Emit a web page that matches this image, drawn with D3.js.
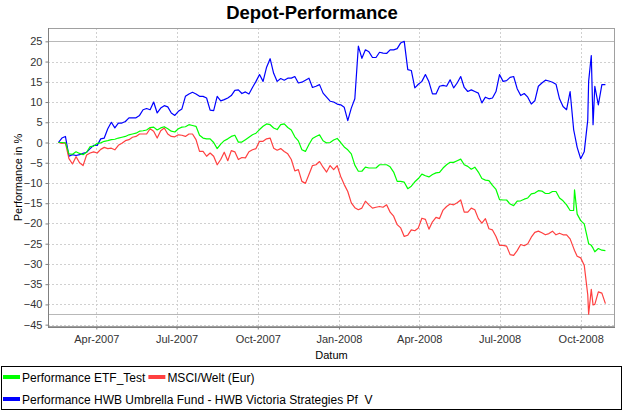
<!DOCTYPE html>
<html><head><meta charset="utf-8">
<script src="https://cdn.jsdelivr.net/npm/d3@7"></script>
<style>
body{margin:0;background:#fff;}
svg{display:block;font-family:"Liberation Sans",Arial,sans-serif;}
</style></head><body>
<svg id="chart" width="625" height="417"></svg>
<script>
// ---- data ----
const dates = [
"2007-02-17","2007-02-21","2007-02-25","2007-03-01","2007-03-05","2007-03-09","2007-03-13","2007-03-17","2007-03-21","2007-03-25",
"2007-03-29","2007-04-02","2007-04-06","2007-04-10","2007-04-14","2007-04-18","2007-04-22","2007-04-26","2007-04-30","2007-05-04",
"2007-05-08","2007-05-12","2007-05-16","2007-05-20","2007-05-24","2007-05-28","2007-06-01","2007-06-05","2007-06-09","2007-06-13",
"2007-06-17","2007-06-21","2007-06-25","2007-06-29","2007-07-03","2007-07-07","2007-07-11","2007-07-15","2007-07-19","2007-07-23",
"2007-07-27","2007-07-31","2007-08-04","2007-08-08","2007-08-12","2007-08-16","2007-08-20","2007-08-24","2007-08-28","2007-09-01",
"2007-09-05","2007-09-09","2007-09-13","2007-09-17","2007-09-21","2007-09-25","2007-09-29","2007-10-03","2007-10-07","2007-10-11",
"2007-10-15","2007-10-19","2007-10-23","2007-10-27","2007-10-31","2007-11-04","2007-11-08","2007-11-12","2007-11-16","2007-11-20",
"2007-11-24","2007-11-28","2007-12-02","2007-12-06","2007-12-10","2007-12-14","2007-12-18","2007-12-22","2007-12-26","2007-12-30",
"2008-01-03","2008-01-07","2008-01-11","2008-01-15","2008-01-19","2008-01-23","2008-01-27","2008-01-31","2008-02-04","2008-02-08",
"2008-02-12","2008-02-16","2008-02-20","2008-02-24","2008-02-28","2008-03-03","2008-03-07","2008-03-11","2008-03-15","2008-03-19",
"2008-03-23","2008-03-27","2008-03-31","2008-04-04","2008-04-08","2008-04-12","2008-04-16","2008-04-20","2008-04-24","2008-04-28",
"2008-05-02","2008-05-06","2008-05-10","2008-05-14","2008-05-18","2008-05-22","2008-05-26","2008-05-30","2008-06-03","2008-06-07",
"2008-06-11","2008-06-15","2008-06-19","2008-06-23","2008-06-27","2008-07-01","2008-07-05","2008-07-09","2008-07-13","2008-07-17",
"2008-07-21","2008-07-25","2008-07-29","2008-08-02","2008-08-06","2008-08-10","2008-08-14","2008-08-18","2008-08-22","2008-08-26",
"2008-08-30","2008-09-03","2008-09-07","2008-09-11","2008-09-15","2008-09-19","2008-09-23","2008-09-24","2008-09-27","2008-10-01",
"2008-10-05","2008-10-09","2008-10-10","2008-10-13","2008-10-15","2008-10-17","2008-10-21","2008-10-25","2008-10-29"
];
const etfTest = [
0,0,-0.1,-2.8,-2.9,-2.3,-2.7,-3.0,-2.4,-1.0,
-0.9,-0.2,-0.1,0.3,0.45,0.7,0.8,1.1,1.3,1.5,
1.9,2.1,2.3,2.8,2.9,3.1,3.7,3.8,3.1,3.6,
3.9,3.4,2.8,2.6,3.4,3.8,3.9,4.4,4.2,4.0,
1.8,1.1,0.9,0.9,0.0,-1.5,-0.4,0.45,0.9,1.5,
1.8,0.1,0.1,0.7,1.3,1.9,2.3,3.2,4.0,4.6,
4.4,3.6,3.2,4.4,4.6,3.7,3.1,1.4,0.4,-1.8,
-2.2,-0.5,1.0,1.5,1.9,0.45,-0.1,0.0,0.6,1.0,
0.0,-1.1,-1.8,-2.8,-5.6,-7.1,-7.1,-6.1,-6.3,-6.3,
-6.3,-5.5,-5.5,-5.5,-6.0,-7.3,-9.6,-9.6,-9.8,-11.4,
-10.8,-9.7,-8.9,-7.8,-8.2,-8.5,-7.9,-7.5,-7.4,-6.3,
-5.5,-4.9,-4.9,-4.5,-4.1,-5.5,-5.9,-6.6,-6.1,-7.3,
-8.9,-9.3,-9.4,-10.6,-11.6,-14.1,-14.2,-14.2,-15.2,-15.6,
-14.5,-14.4,-14.0,-13.7,-12.7,-12.5,-11.9,-12.0,-12.6,-12.6,
-12.1,-12.1,-13.7,-14.4,-15.4,-16.8,-16.8,-11.7,-17.7,-19.3,
-20.1,-24.0,-25.0,-25.4,-26.1,-27.0,-26.2,-26.6,-26.7
];
const msciWelt = [
0,-0.2,-0.1,-4.0,-5.3,-3.5,-5.0,-5.7,-3.1,-2.6,
-2.3,-2.6,-1.7,-1.2,-1.5,-1.4,-1.8,-0.7,-0.2,0.45,
0.7,1.3,1.5,2.1,2.1,2.1,3.4,2.8,1.1,2.9,
3.6,2.1,1.5,1.4,1.9,1.8,1.5,2.1,2.1,0.7,
-2.2,-2.2,-3.4,-2.6,-3.4,-5.5,-4.2,-2.4,-4.5,-2.0,
-2.3,-4.2,-3.7,-3.8,-2.3,-1.8,-1.5,0.3,0.3,0.9,
1.1,-1.4,-1.9,-1.5,-2.2,-2.8,-4.2,-7.0,-6.7,-9.6,
-10.1,-7.9,-5.7,-5.5,-4.7,-6.1,-7.3,-5.7,-6.7,-5.7,
-8.4,-10.4,-12.1,-14.9,-16.1,-16.6,-16.2,-14.5,-15.4,-16.2,
-16.0,-15.8,-16.0,-15.4,-17.2,-18.2,-20.3,-21.1,-23.2,-22.9,
-21.6,-21.8,-21.1,-18.7,-19.0,-21.4,-19.6,-18.5,-18.8,-16.7,
-15.8,-15.2,-15.4,-14.9,-14.2,-17.2,-17.2,-16.2,-16.6,-18.8,
-19.9,-18.8,-21.3,-21.6,-23.2,-25.4,-25.4,-25.6,-27.7,-27.9,
-26.7,-25.2,-25.5,-25.0,-23.4,-22.2,-21.9,-22.3,-22.8,-22.5,
-21.9,-22.8,-22.4,-22.8,-22.8,-23.8,-26.1,-26.7,-28.1,-28.5,
-30.3,-37.6,-42.4,-36.3,-40.1,-40.0,-36.9,-37.2,-39.8
];
const hwbVictoria = [
0,1.1,1.5,-3.4,-3.0,-3.2,-3.0,-2.7,-2.4,-1.5,
-0.7,-0.7,0.9,1.1,3.4,5.0,3.6,4.8,4.8,5.2,
6.1,6.1,6.1,6.7,8.1,8.4,8.1,10.0,7.3,8.5,
9.1,8.8,7.3,6.7,7.7,8.3,11.4,12.0,12.4,12.0,
11.4,11.4,11.0,8.0,7.9,11.4,10.3,10.6,11.0,11.6,
12.9,13.0,12.1,12.5,12.0,13.6,15.1,16.8,15.1,18.6,
20.7,17.1,15.1,15.8,15.4,15.9,15.9,16.3,14.7,14.9,
15.4,15.9,13.6,13.9,14.3,12.2,11.2,10.2,10.0,9.5,
9.3,8.7,5.4,8.5,10.8,23.8,20.8,22.9,22.4,21.0,
21.0,22.3,22.1,22.0,22.9,22.9,23.2,24.6,25.0,18.0,
17.8,13.5,14.4,15.1,16.8,15.0,12.0,12.0,13.9,14.1,
13.9,15.5,13.5,14.7,16.3,13.6,12.6,13.0,12.6,12.2,
9.8,11.2,10.8,11.0,12.6,16.8,15.1,15.3,16.1,16.3,
13.3,11.6,12.1,11.2,9.5,10.3,13.9,14.7,15.4,15.2,
14.9,14.4,10.8,8.9,8.1,12.6,3.2,2.1,-1.2,-4.0,
-2.3,5.6,15.1,21.5,4.4,13.9,9.3,14.3,14.3
];
const seriesNames = ["Performance ETF_Test", "MSCI/Welt (Eur)", "Performance HWB Umbrella Fund - HWB Victoria Strategies Pf  V"];
const seriesColors = ["#00ff00", "#ff4040", "#0000ff"];
const xTickDates = ["2007-04-01","2007-07-01","2007-10-01","2008-01-01","2008-04-01","2008-07-01","2008-10-01"];
const yTickValues = [25,20,15,10,5,0,-5,-10,-15,-20,-25,-30,-35,-40,-45];

// ---- layout ----
const svg = d3.select("#chart");
const W = 625, H = 417;
const plot = {left: 48, right: 615, top: 28, bottom: 327};
const parse = d3.timeParse("%Y-%m-%d");
const dts = dates.map(parse);

const x = d3.scaleTime()
  .domain([new Date(2007,1,5,6), new Date(2008,10,8,21)])
  .range([plot.left, plot.right]);
const y = d3.scaleLinear()
  .domain([-45.58, 28.29])
  .range([plot.bottom, plot.top]);

svg.append("rect").attr("width", W).attr("height", H).attr("fill", "#fff");

// title
svg.append("text").attr("x", 312).attr("y", 19).attr("text-anchor", "middle")
  .attr("font-size", 18.5).attr("font-weight", "bold").attr("fill", "#000")
  .text("Depot-Performance");

// gridlines
const grid = svg.append("g");
grid.selectAll("line.h").data(yTickValues).join("line")
  .attr("x1", plot.left).attr("x2", plot.right)
  .attr("y1", d => Math.round(y(d)) + 0.5).attr("y2", d => Math.round(y(d)) + 0.5)
  .attr("stroke", "#d0d0d0").attr("stroke-dasharray", "2,2");
grid.selectAll("line.v").data(xTickDates.map(parse)).join("line")
  .attr("y1", plot.top).attr("y2", plot.bottom)
  .attr("x1", d => Math.round(x(d)) + 0.5).attr("x2", d => Math.round(x(d)) + 0.5)
  .attr("stroke", "#d0d0d0").attr("stroke-dasharray", "2,2");

// markers at max / min
const markerVals = [d3.max(hwbVictoria), d3.min(msciWelt)];
svg.append("g").selectAll("line").data(markerVals).join("line")
  .attr("x1", plot.left).attr("x2", plot.right)
  .attr("y1", d => Math.round(y(d)) + 0.5).attr("y2", d => Math.round(y(d)) + 0.5)
  .attr("stroke", "#b8b8b8").attr("stroke-width", 1.2);

// plot outline
svg.append("rect").attr("x", plot.left + 0.5).attr("y", plot.top + 0.5)
  .attr("width", plot.right - plot.left - 1).attr("height", plot.bottom - plot.top - 1)
  .attr("fill", "none").attr("stroke", "#a0a0a0");

// clip
svg.append("clipPath").attr("id", "clip").append("rect")
  .attr("x", plot.left).attr("y", plot.top)
  .attr("width", plot.right - plot.left).attr("height", plot.bottom - plot.top);

const line = d3.line().x(d => x(d[0])).y(d => y(d[1]));
const allSeries = [etfTest, msciWelt, hwbVictoria];
const lines = svg.append("g").attr("clip-path", "url(#clip)");
[2, 1, 0].forEach(k => {
  lines.append("path")
    .datum(dts.map((d, i) => [d, allSeries[k][i]]))
    .attr("d", line).attr("fill", "none")
    .attr("stroke", seriesColors[k]).attr("stroke-width", 1.2)
    .attr("stroke-linejoin", "round");
});

// axes
const yAxis = d3.axisLeft(y).tickValues(yTickValues).tickFormat(d3.format("d"))
  .tickSizeInner(3).tickSizeOuter(0).tickPadding(3);
const gy = svg.append("g").attr("transform", `translate(${plot.left + 0.5},0)`).call(yAxis);
const xAxis = d3.axisBottom(x).tickValues(xTickDates.map(parse))
  .tickFormat(d3.timeFormat("%b-%Y")).tickSizeInner(2).tickSizeOuter(0).tickPadding(6);
const gx = svg.append("g").attr("transform", `translate(0,${plot.bottom + 0.5})`).call(xAxis);
[gx, gy].forEach(g => {
  g.select(".domain").attr("stroke", "#808080");
  g.selectAll(".tick line").attr("stroke", "#808080");
  g.selectAll(".tick text").attr("fill", "#333").attr("font-size", 11)
    .attr("font-family", "Liberation Sans, Arial, sans-serif");
});
gx.select(".domain").attr("d", `M${plot.left},0H${plot.right}`);
gy.select(".domain").attr("d", `M0,${plot.top}V${plot.bottom}`);

// axis labels
svg.append("text").attr("x", (plot.left + plot.right) / 2).attr("y", 359)
  .attr("text-anchor", "middle").attr("font-size", 11).attr("fill", "#000").text("Datum");
svg.append("text").attr("transform", `translate(22,${(plot.top + plot.bottom) / 2}) rotate(-90)`)
  .attr("text-anchor", "middle").attr("font-size", 11).attr("fill", "#000").text("Performance in %");

// legend
svg.append("rect").attr("x", 1.5).attr("y", 366.5).attr("width", 620).attr("height", 43)
  .attr("fill", "#fff").attr("stroke", "#000");
const rows = [[0, 1], [2]];
rows.forEach((row, r) => {
  let cx = 3;
  const cy = 377 + r * 22;
  row.forEach(k => {
    svg.append("line").attr("x1", cx).attr("x2", cx + 17).attr("y1", cy).attr("y2", cy)
      .attr("stroke", seriesColors[k]).attr("stroke-width", 4);
    const t = svg.append("text").attr("x", cx + 19).attr("y", cy + 4.5)
      .attr("font-size", 12).attr("fill", "#000").style("white-space", "pre")
      .text(seriesNames[k]);
    cx += 19 + t.node().getComputedTextLength() + 3;
  });
});
</script>
</body></html>
